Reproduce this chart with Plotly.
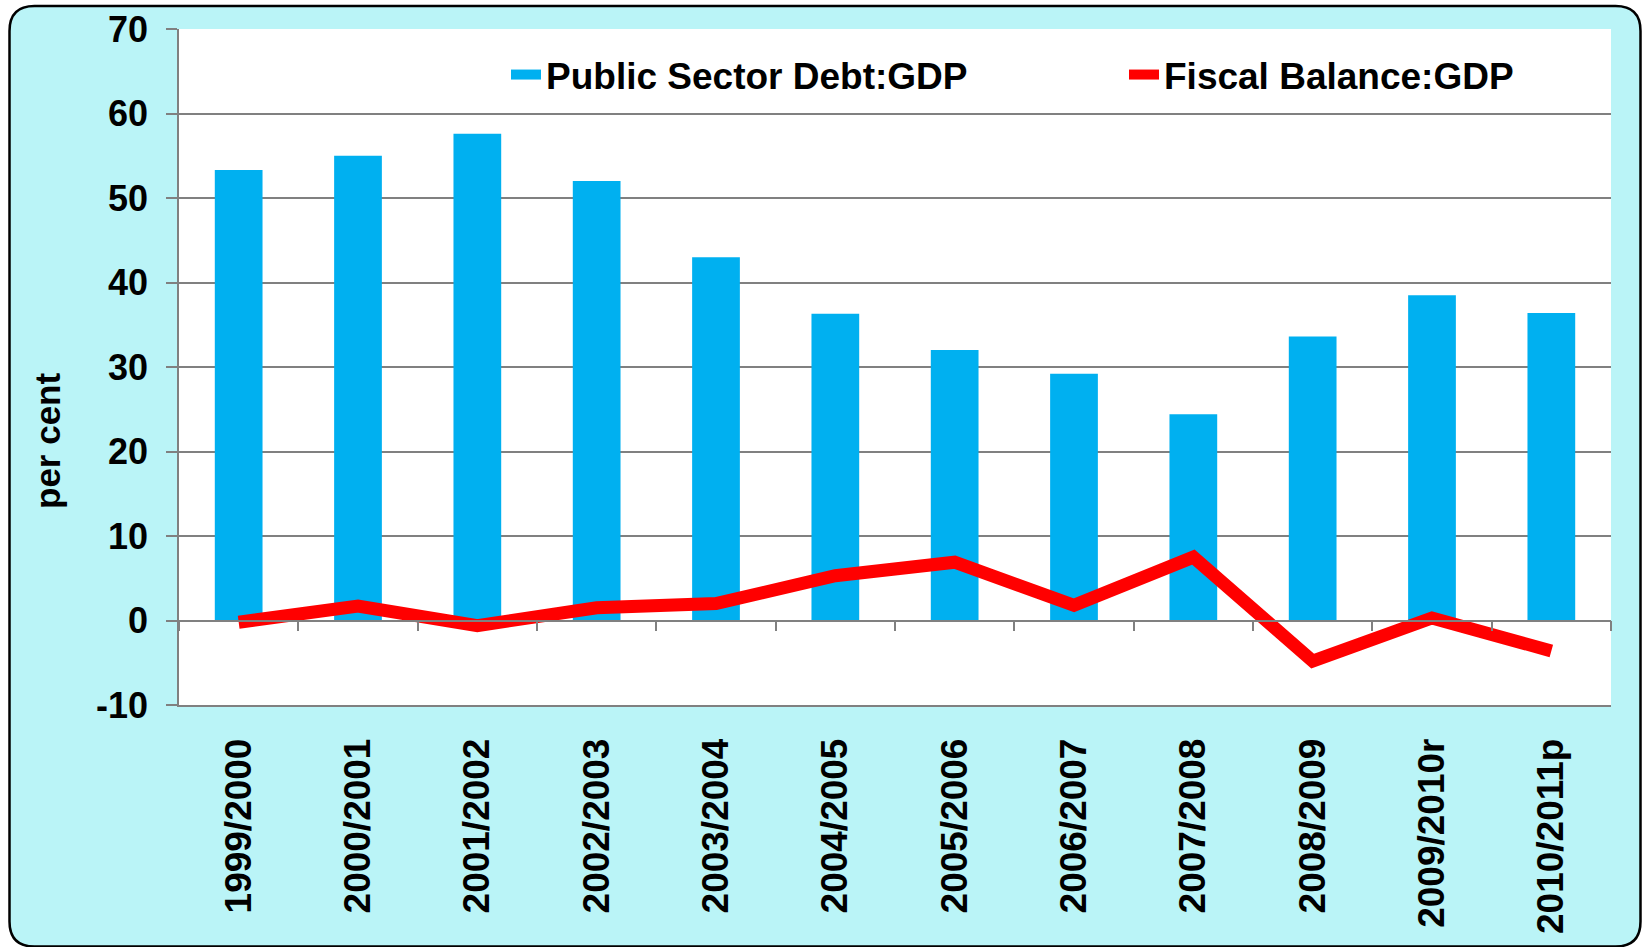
import plotly.graph_objects as go

years = ["1999/2000", "2000/2001", "2001/2002", "2002/2003", "2003/2004", "2004/2005",
         "2005/2006", "2006/2007", "2007/2008", "2008/2009", "2009/2010r", "2010/2011p"]
debt_gdp = [53.3, 55.0, 57.6, 52.0, 43.0, 36.3, 32.0, 29.2, 24.4, 33.6, 38.5, 36.4]
fiscal_gdp = [-0.2, 1.7, -0.6, 1.5, 2.0, 5.3, 6.9, 1.8, 7.5, -4.8, 0.3, -3.6]
y_ticks = [-10, 0, 10, 20, 30, 40, 50, 60, 70]

W, H = 1642, 947
L, R, T, B = 179, 31, 29, 242
PW, PH = W - L - R, H - T - B
FONT = "Liberation Sans, Arial, sans-serif"
BLUE = "#00B0F0"
RED = "#FF0000"
GRID = "#808080"
PANEL = "#BAF4F7"


def px(x):
    return (x - L) / PW


def py(y):
    return (H - B - y) / PH


def rounded_rect(x0, y0, x1, y1, r):
    pts = [
        f"M {px(x0 + r)} {py(y0)}",
        f"L {px(x1 - r)} {py(y0)}",
        f"Q {px(x1)} {py(y0)} {px(x1)} {py(y0 + r)}",
        f"L {px(x1)} {py(y1 - r)}",
        f"Q {px(x1)} {py(y1)} {px(x1 - r)} {py(y1)}",
        f"L {px(x0 + r)} {py(y1)}",
        f"Q {px(x0)} {py(y1)} {px(x0)} {py(y1 - r)}",
        f"L {px(x0)} {py(y0 + r)}",
        f"Q {px(x0)} {py(y0)} {px(x0 + r)} {py(y0)}",
        "Z",
    ]
    return " ".join(pts)


fig = go.Figure()

fig.add_trace(go.Bar(
    x=years, y=debt_gdp, name="Public Sector Debt:GDP",
    marker=dict(color=BLUE, line=dict(width=0)),
    showlegend=False, xaxis="x", yaxis="y",
))
# legend proxy for the bar series (wide swatch like the original)
fig.add_trace(go.Scatter(
    x=[None], y=[None], mode="lines", name="Public Sector Debt:GDP",
    line=dict(color=BLUE, width=18), showlegend=True, xaxis="x", yaxis="y",
))
fig.add_trace(go.Scatter(
    x=years, y=fiscal_gdp, mode="lines", name="Fiscal Balance:GDP",
    line=dict(color=RED, width=13), xaxis="x2", yaxis="y",
))

fig.update_layout(
    width=W, height=H,
    margin=dict(l=L, r=R, t=T, b=B, autoexpand=False),
    paper_bgcolor="white",
    plot_bgcolor="white",
    font=dict(family=FONT, color="black", size=34, weight="bold"),
    bargap=0.6,
    showlegend=True,
    legend=dict(
        orientation="h", x=px(506), xanchor="left", y=py(75), yanchor="middle",
        bgcolor="rgba(0,0,0,0)", font=dict(size=37, family=FONT, weight="bold"),
        entrywidth=573, traceorder="normal",
    ),
    xaxis=dict(
        type="category", categoryorder="array", categoryarray=years,
        showgrid=False, zeroline=False, showline=True, linecolor=GRID, linewidth=1.5,
        ticks="", tickangle=-90, ticklabelstandoff=17,
        tickfont=dict(size=37, family=FONT, weight="bold"),
    ),
    xaxis2=dict(
        type="category", matches="x", overlaying="x", anchor="free", position=10 / 80,
        showgrid=False, zeroline=False, showline=True, linecolor=GRID, linewidth=1.5,
        ticks="outside", tickson="boundaries", ticklen=10, tickwidth=1.5, tickcolor=GRID,
        showticklabels=False,
    ),
    yaxis=dict(
        range=[-10, 70], tickvals=y_ticks, ticktext=[str(v) for v in y_ticks],
        showgrid=True, gridcolor=GRID, gridwidth=1.5, zeroline=False,
        showline=True, linecolor=GRID, linewidth=1.5,
        ticks="outside", ticklen=11, tickwidth=1.5, tickcolor=GRID,
        ticklabelstandoff=11,
        tickfont=dict(size=36, family=FONT, weight="bold"),
    ),
    annotations=[
        dict(text="per cent", xref="paper", yref="paper", x=px(47), y=py(441),
             xanchor="center", yanchor="middle", textangle=-90, showarrow=False,
             font=dict(size=35, family=FONT, weight="bold", color="black")),
    ],
    shapes=[
        dict(type="path", xref="paper", yref="paper", layer="below",
             path=rounded_rect(9.5, 6, 1640.5, 946.5, 25),
             fillcolor=PANEL, line=dict(color="black", width=2.5)),
        dict(type="rect", xref="paper", yref="paper", layer="below",
             x0=0, x1=1, y0=0, y1=1, fillcolor="white", line=dict(width=0)),
    ],
)

fig.write_html("out.html")
